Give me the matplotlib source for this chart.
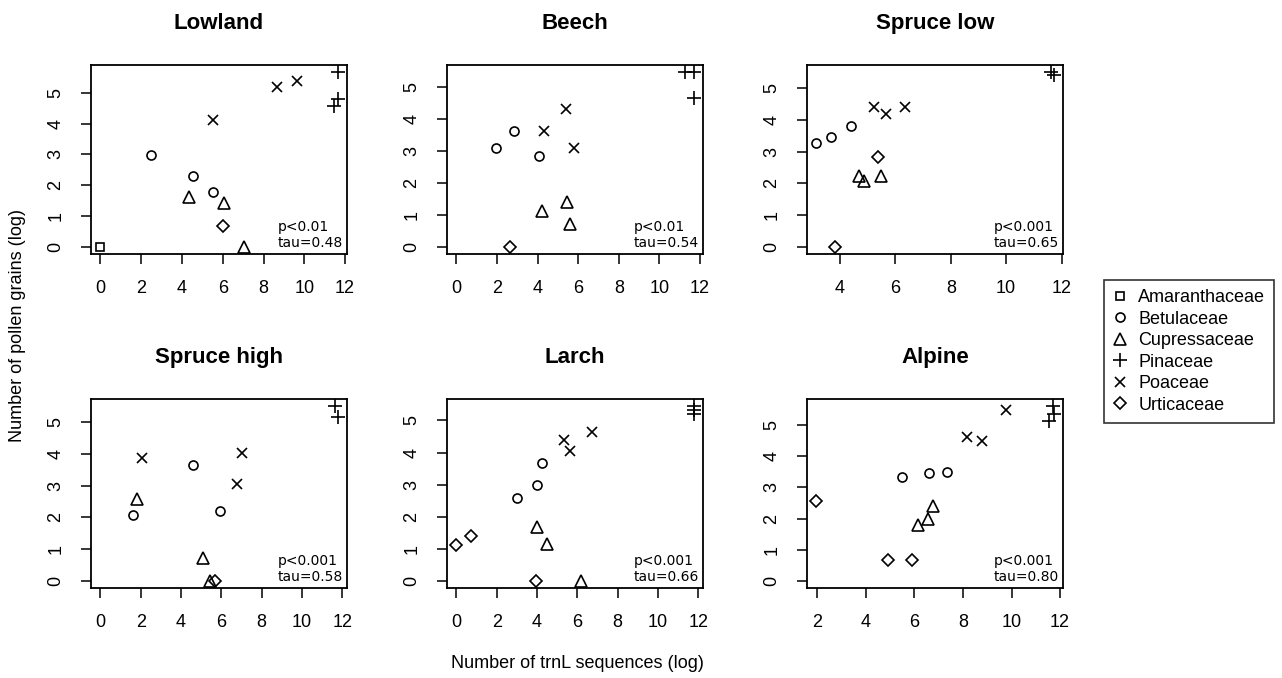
import matplotlib
matplotlib.use("Agg")
import matplotlib.pyplot as plt
from matplotlib.lines import Line2D

plt.rcParams['font.family'] = ['Liberation Sans', 'DejaVu Sans']

# families, in legend order
families = ["Amaranthaceae", "Betulaceae", "Cupressaceae", "Pinaceae", "Poaceae", "Urticaceae"]
titles = ["Lowland", "Beech", "Spruce low", "Spruce high", "Larch", "Alpine"]
stats = ["p<0.01\ntau=0.48", "p<0.01\ntau=0.54", "p<0.001\ntau=0.65",
         "p<0.001\ntau=0.58", "p<0.001\ntau=0.66", "p<0.001\ntau=0.80"]

# per panel: family of each point, x = log trnL sequences, y = log pollen grains
lowland_fam = ["Amaranthaceae", "Betulaceae", "Betulaceae", "Betulaceae",
               "Cupressaceae", "Cupressaceae", "Cupressaceae", "Urticaceae",
               "Poaceae", "Poaceae", "Poaceae", "Pinaceae", "Pinaceae", "Pinaceae"]
lowland_x = [0.0, 2.46, 4.53, 5.52, 4.32, 6.08, 7.03, 6.01, 5.52, 8.67, 9.62, 11.63, 11.63, 11.46]
lowland_y = [0.0, 2.99, 2.29, 1.77, 1.63, 1.41, 0.0, 0.68, 4.11, 5.18, 5.38, 5.67, 4.78, 4.57]

beech_fam = ["Urticaceae", "Betulaceae", "Betulaceae", "Betulaceae",
             "Cupressaceae", "Cupressaceae", "Cupressaceae",
             "Poaceae", "Poaceae", "Poaceae", "Pinaceae", "Pinaceae", "Pinaceae"]
beech_x = [2.63, 1.94, 2.83, 4.08, 4.23, 5.46, 5.59, 5.39, 4.33, 5.81, 11.27, 11.68, 11.68]
beech_y = [0.0, 3.08, 3.62, 2.83, 1.13, 1.41, 0.73, 4.32, 3.64, 3.09, 5.47, 5.47, 4.66]

sprucelow_fam = ["Betulaceae", "Betulaceae", "Betulaceae", "Poaceae", "Poaceae", "Poaceae",
                 "Urticaceae", "Urticaceae", "Cupressaceae", "Cupressaceae", "Cupressaceae",
                 "Pinaceae", "Pinaceae"]
sprucelow_x = [3.15, 3.67, 4.39, 5.21, 5.67, 6.36, 5.37, 3.83, 4.70, 4.88, 5.49, 11.62, 11.71]
sprucelow_y = [3.28, 3.45, 3.81, 4.39, 4.18, 4.39, 2.82, 0.0, 2.22, 2.09, 2.22, 5.50, 5.41]

sprucehigh_fam = ["Poaceae", "Poaceae", "Poaceae", "Betulaceae", "Betulaceae", "Betulaceae",
                  "Cupressaceae", "Cupressaceae", "Cupressaceae", "Urticaceae",
                  "Pinaceae", "Pinaceae"]
sprucehigh_x = [2.07, 7.01, 6.77, 4.61, 1.59, 5.94, 1.79, 5.11, 5.44, 5.69, 11.66, 11.77]
sprucehigh_y = [3.88, 4.01, 3.04, 3.64, 2.09, 2.21, 2.59, 0.73, 0.0, 0.0, 5.50, 5.14]

larch_fam = ["Urticaceae", "Urticaceae", "Urticaceae", "Betulaceae", "Betulaceae", "Betulaceae",
             "Cupressaceae", "Cupressaceae", "Cupressaceae", "Poaceae", "Poaceae", "Poaceae",
             "Pinaceae", "Pinaceae", "Pinaceae"]
larch_x = [0.0, 0.71, 3.93, 2.99, 4.01, 4.23, 3.98, 4.48, 6.17, 5.34, 5.64, 6.72, 11.77, 11.77, 11.77]
larch_y = [1.11, 1.41, 0.0, 2.57, 3.0, 3.68, 1.67, 1.15, 0.0, 4.38, 4.05, 4.64, 5.45, 5.34, 5.21]

alpine_fam = ["Urticaceae", "Urticaceae", "Urticaceae", "Betulaceae", "Betulaceae", "Betulaceae",
              "Cupressaceae", "Cupressaceae", "Cupressaceae", "Poaceae", "Poaceae", "Poaceae",
              "Pinaceae", "Pinaceae", "Pinaceae"]
alpine_x = [1.97, 4.92, 5.92, 5.51, 6.59, 7.36, 6.15, 6.57, 6.75, 8.15, 8.77, 9.77, 11.70, 11.73, 11.56]
alpine_y = [2.55, 0.68, 0.68, 3.33, 3.47, 3.49, 1.80, 1.98, 2.41, 4.62, 4.48, 5.48, 5.61, 5.34, 5.13]

panels = [(lowland_fam, lowland_x, lowland_y), (beech_fam, beech_x, beech_y),
          (sprucelow_fam, sprucelow_x, sprucelow_y), (sprucehigh_fam, sprucehigh_x, sprucehigh_y),
          (larch_fam, larch_x, larch_y), (alpine_fam, alpine_x, alpine_y)]
x_from_zero = [True, True, False, True, True, False]
xticks = [range(0, 13, 2), range(0, 13, 2), range(4, 13, 2),
          range(0, 13, 2), range(0, 13, 2), range(2, 13, 2)]

markers = {"Amaranthaceae": ("s", 6.0), "Betulaceae": ("o", 6.5), "Cupressaceae": ("^", 8.0),
           "Pinaceae": ("+", 10.0), "Poaceae": ("x", 7.5), "Urticaceae": ("D", 6.0)}


def main():
    W, H = 1282, 678
    fig = plt.figure(figsize=(W / 100, H / 100), dpi=100)
    lefts = [91, 447, 807]
    rows = [(65, 254), (399, 588)]
    aw = 256

    for i, (fam, xs, ys) in enumerate(panels):
        top, bot = rows[i // 3]
        ax = fig.add_axes([lefts[i % 3] / W, 1 - bot / H, aw / W, (bot - top) / H])
        for f in families:
            px = [x for x, g in zip(xs, fam) if g == f]
            py = [y for y, g in zip(ys, fam) if g == f]
            if not px:
                continue
            m, s = markers[f]
            ax.plot(px, py, linestyle='none', marker=m, markersize=s, mfc='none',
                    mec='black', mew=1.2, color='black')
        lo = 0 if x_from_zero[i] else min(xs)
        hi = max(xs)
        ax.set_xlim(lo - 0.04 * (hi - lo), hi + 0.04 * (hi - lo))
        ytop = max(ys)
        ax.set_ylim(-0.04 * ytop, ytop * 1.04)
        ax.set_xticks(list(xticks[i]))
        ax.set_yticks(range(0, 6))
        ax.tick_params(direction='out', length=7, width=1.1, labelsize=13, pad=12)
        for lab in ax.get_yticklabels():
            lab.set_rotation(90)
            lab.set_va('center')
        for sp in ax.spines.values():
            sp.set_linewidth(1.3)
        ax.set_title(titles[i], fontsize=16, fontweight='bold', pad=26)
        ax.text(0.985, 0.02, stats[i], transform=ax.transAxes, ha='right', va='bottom',
                multialignment='left', fontsize=10, family='DejaVu Sans', linespacing=1.2)

    fig.text(18 / W, 1 - 326 / H, "Number of pollen grains (log)", rotation=90,
             ha='center', va='center', fontsize=13)
    fig.text(577 / W, 1 - 663 / H, "Number of trnL sequences (log)",
             ha='center', va='center', fontsize=13)

    handles = [Line2D([], [], linestyle='none', marker=markers[f][0], markersize=markers[f][1],
                      mfc='none', mec='black', mew=1.2, color='black') for f in families]
    leg = fig.legend(handles, families, loc='upper left', bbox_to_anchor=(1104 / W, 1 - 280 / H),
                     fontsize=13, frameon=True, fancybox=False, handlelength=0.8,
                     handletextpad=0.6, labelspacing=0.25, borderpad=0.5, borderaxespad=0)
    leg.get_frame().set_edgecolor('black')
    leg.get_frame().set_linewidth(1.2)

    fig.savefig("out.png", dpi=100)


if __name__ == "__main__":
    main()
